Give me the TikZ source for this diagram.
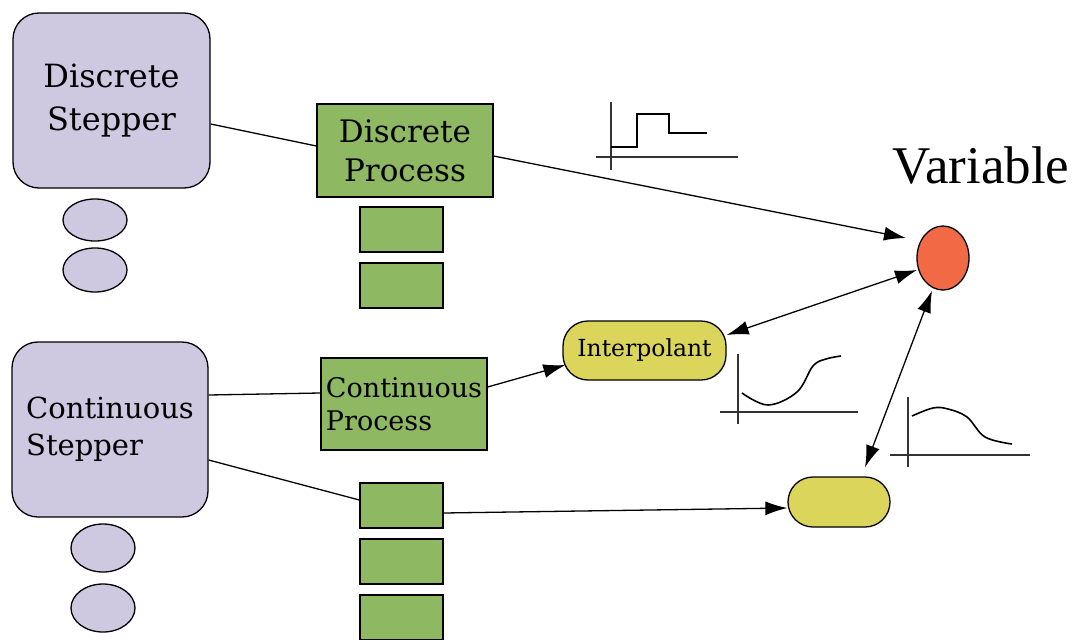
\documentclass[tikz,border=0pt]{standalone}
\usepackage{fontspec}
\setmainfont{DejaVu Serif}
\newfontfamily\varfont{Liberation Serif}
\usetikzlibrary{arrows.meta,shapes.geometric}
\definecolor{lavender}{HTML}{CFC8E1}
\definecolor{procgreen}{HTML}{8EB962}
\definecolor{pillyellow}{HTML}{DBD55B}
\definecolor{varorange}{HTML}{F26A45}
\tikzset{
  outline/.style={draw=black, line width=1.3pt},
  stepperbox/.style={outline, fill=lavender, rounded corners=26pt, inner sep=0pt,
    minimum width=197pt, minimum height=175pt},
  blob/.style={outline, fill=lavender, ellipse, inner sep=0pt, minimum width=64pt},
  procbox/.style={outline, fill=procgreen, rectangle, inner sep=0pt},
  slot/.style={procbox, minimum width=83pt, minimum height=45pt},
  pill/.style={outline, fill=pillyellow, rounded corners=25pt, inner sep=0pt},
  link/.style={line width=1.3pt},
  head/.style={Latex[length=22pt,width=14pt]},
  tip/.style={link, -{Latex[length=22pt,width=14pt]}},
  bitip/.style={link, {Latex[length=22pt,width=14pt]}-{Latex[length=22pt,width=14pt]}},
  axis/.style={line width=1.6pt, draw=black!80},
  trace/.style={line width=1.6pt}
}
\begin{document}
\begin{tikzpicture}[x=1pt,y=-1pt]
\clip (0,0) rectangle (1077,640);
\fill[white] (0,0) rectangle (1077,640);

% steppers and their queues
\node[stepperbox, align=center, font=\fontsize{32}{43}\selectfont] (dstep) at (111.5,100.5) {Discrete\\Stepper};
\node[blob, minimum height=42pt] (dblob1) at (95,220) {};
\node[blob, minimum height=44pt] (dblob2) at (95,270) {};
\node[stepperbox, minimum width=196pt, align=left, font=\fontsize{29}{37}\selectfont] (cstep) at (110,429.5) {Continuous\\Stepper};
\node[blob, minimum height=48pt] (cblob1) at (103,548) {};
\node[blob, minimum height=48pt] (cblob2) at (103,608) {};

% processes
\node[procbox, minimum width=176pt, minimum height=93pt, align=center, font=\fontsize{31}{39}\selectfont] (dproc) at (405,150.5) {Discrete\\Process};
\node[slot] (dslot1) at (401.5,229.5) {};
\node[slot] (dslot2) at (401.5,285.5) {};
\node[procbox, minimum width=166pt, minimum height=92pt, align=left, font=\fontsize{27}{33}\selectfont] (cproc) at (404,404) {Continuous\\Process};
\node[slot] (cslot1) at (401.5,505.5) {};
\node[slot] (cslot2) at (401.5,561.5) {};
\node[slot] (cslot3) at (401.5,617.5) {};

% interpolants and the variable
\node[pill, minimum width=163pt, minimum height=59pt, font=\fontsize{23.5}{28}\selectfont] (interp) at (644.5,350.5) {Interpolant};
\node[pill, minimum width=102pt, minimum height=50pt] (pill) at (839,502) {};
\node[outline, fill=varorange, ellipse, inner sep=0pt, minimum width=52pt, minimum height=64pt] (var) at (943,258) {};
\node[font=\varfont\fontsize{53}{60}\selectfont] (varlabel) at (981,166) {Variable};

% connectors
\draw[link] ([yshift=-23.5pt]dstep.east) -- ([yshift=4.5pt]dproc.west);
\draw[tip] ([yshift=-5.5pt]dproc.east) -- ([shift={(-37,-20)}]var.center);
\draw[bitip] ([yshift=15.5pt]interp.east) -- ([shift={(-26,12)}]var.center);
\draw[link] ([yshift=34.5pt]cstep.east) -- ([yshift=11pt]cproc.west);
\draw[link] ([yshift=-30.5pt]cstep.east) -- ([yshift=5.5pt]cslot1.west);
\draw[tip] ([yshift=17pt]cproc.east) -- ([shift={(3,14.5)}]interp.west);
\draw[tip] ([yshift=-7.5pt]cslot1.east) -- ([yshift=-6pt]pill.west);
\draw[bitip] ([shift={(26,-9)}]pill.north) -- ([xshift=-11pt]var.south);

% step response sketch
\draw[axis] (611,102) -- (611,170);
\draw[axis] (596,157) -- (738,157);
\draw[trace] (611,147) -- (637,147) -- (637,114) -- (669,114) -- (669,133) -- (707,133);

% smooth rise sketch
\draw[axis] (738,354) -- (738,424);
\draw[axis] (720,412) -- (858,412);
\draw[trace] plot[smooth, tension=0.6] coordinates {(742,393) (768,405) (797,392) (813,366) (826,359) (841,356)};

% hump sketch
\draw[axis] (908,397) -- (908,467);
\draw[axis] (890,455) -- (1030,455);
\draw[trace] plot[smooth, tension=0.6] coordinates {(912,416) (933,408) (948,409) (967,417) (985,437) (1012,444)};
\end{tikzpicture}
\end{document}
